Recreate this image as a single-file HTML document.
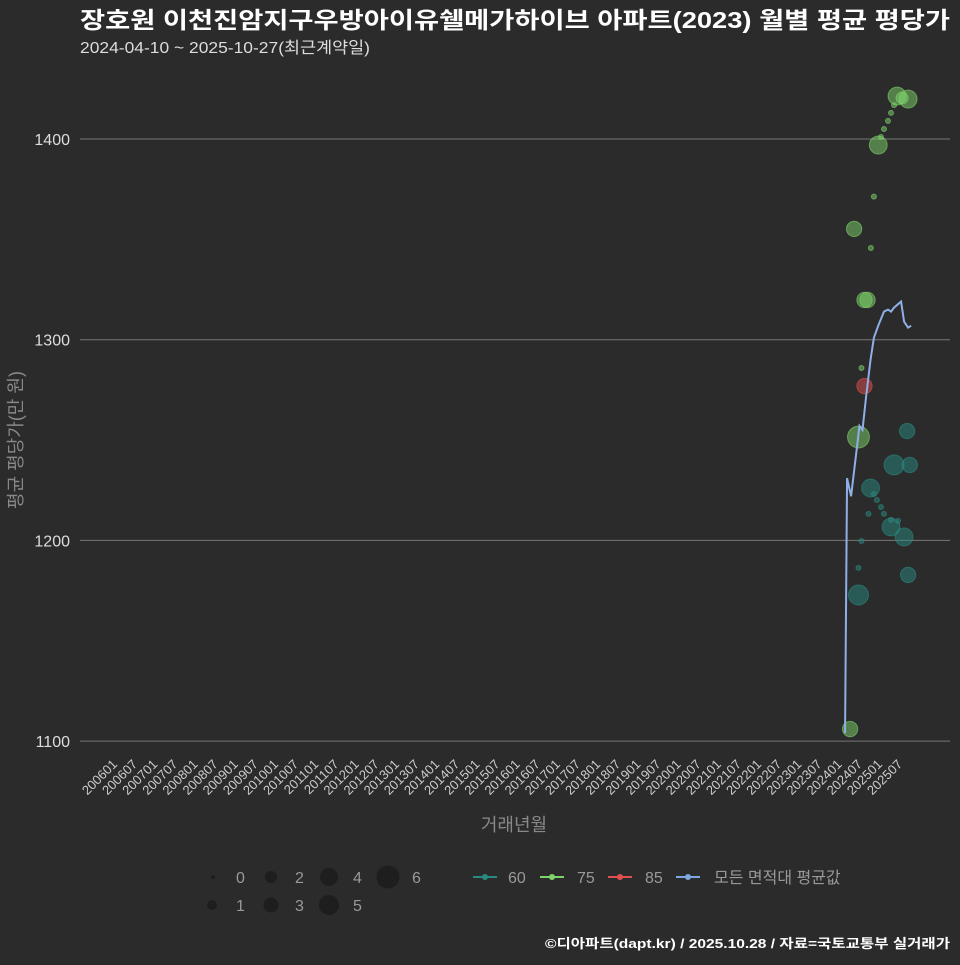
<!DOCTYPE html>
<html><head><meta charset="utf-8"><style>
body{margin:0;background:#2b2b2b;width:960px;height:960px;overflow:hidden;font-family:"Liberation Sans","Noto Sans CJK KR",sans-serif}
</style></head><body>
<svg id="chart" width="960" height="960" xmlns="http://www.w3.org/2000/svg" style="font-family:'Liberation Sans','Noto Sans CJK KR',sans-serif">
<rect width="960" height="960" fill="#2b2b2b"/>
<text x="80" y="28" fill="#fff" font-size="23" font-weight="bold" textLength="870" lengthAdjust="spacingAndGlyphs">장호원 이천진암지구우방아이유쉘메가하이브 아파트(2023) 월별 평균 평당가</text>
<text x="80" y="53" fill="#ddd" font-size="16" textLength="290" lengthAdjust="spacingAndGlyphs">2024-04-10 ~ 2025-10-27(최근계약일)</text>
<g id="grid"></g><g id="yticks"></g><g id="xticks"></g><g id="marks"></g>
<text transform="translate(22,440) rotate(-90)" text-anchor="middle" fill="#888" font-size="18">평균 평당가(만 원)</text>
<text x="514" y="831" text-anchor="middle" fill="#888" font-size="18">거래년월</text>
<g fill="#1e1e1e" font-size="16">
<circle cx="213" cy="877" r="2"/><text x="236" y="883" fill="#999">0</text>
<circle cx="271" cy="877" r="6"/><text x="295" y="883" fill="#999">2</text>
<circle cx="329" cy="877" r="9"/><text x="353" y="883" fill="#999">4</text>
<circle cx="388" cy="877" r="11.5"/><text x="412" y="883" fill="#999">6</text>
<circle cx="212" cy="905" r="5"/><text x="236" y="911" fill="#999">1</text>
<circle cx="271" cy="905" r="7.5"/><text x="295" y="911" fill="#999">3</text>
<circle cx="329" cy="905" r="10"/><text x="353" y="911" fill="#999">5</text>
</g>
<g font-size="16">
<line x1="473" y1="877" x2="497" y2="877" stroke="#2a8a80" stroke-width="2"/><circle cx="485" cy="877" r="3" fill="#2a8a80"/><text x="508" y="883" fill="#999">60</text>
<line x1="540" y1="877" x2="564" y2="877" stroke="#7ed36a" stroke-width="2"/><circle cx="552" cy="877" r="3" fill="#7ed36a"/><text x="577" y="883" fill="#999">75</text>
<line x1="608" y1="877" x2="632" y2="877" stroke="#e05050" stroke-width="2"/><circle cx="620" cy="877" r="3" fill="#e05050"/><text x="645" y="883" fill="#999">85</text>
<line x1="676" y1="877" x2="700" y2="877" stroke="#7ea6e0" stroke-width="2"/><circle cx="688" cy="877" r="3" fill="#7ea6e0"/><text x="714" y="883" fill="#999">모든 면적대 평균값</text>
</g>
<text x="545" y="948" fill="#fff" font-size="13" font-weight="bold" textLength="405" lengthAdjust="spacingAndGlyphs">©디아파트(dapt.kr) / 2025.10.28 / 자료=국토교통부 실거래가</text>
</svg>
<script>
const yTicks=[1100,1200,1300,1400];
const avgMonths=[217.6,218.2,219.4,220.9,221.9,222.8,223.9,225.2,226.2,227.5,229.2,230.4,231.3,232.2,234.3,235.2,236.4,237.3];
const avgValues=[1104,1231,1222,1243,1257,1255,1272,1290,1301,1307,1314,1315,1314,1316,1319,1309,1306,1307];
const p75Months=[233.1,236.4,234.6,232.2,231.3,230.4,229.2,228.3,227.5,226.2,220.3,225.3,223.4,224.3,222.5,221.6,219.1];
const p75Values=[1421.4,1419.9,1420.4,1416.9,1413,1409,1405,1401,1397,1371.3,1355.2,1345.7,1319.8,1319.8,1285.9,1251.5,1106];
const p75Counts=[3,3,1,0,0,0,0,0,3,0,2,0,2,2,0,5,2];
const p85Months=[223.4];
const p85Values=[1276.9];
const p85Counts=[2];
const p60Months=[236.1,232.2,236.9,225.2,226.2,227.1,228.3,229.2,224.6,231.3,233.4,231.3,235.2,222.5,221.6,236.4,221.6];
const p60Values=[1254.5,1237.6,1237.6,1226.1,1223.1,1220.1,1216.6,1213.2,1213.2,1210.2,1209.7,1206.7,1201.7,1199.7,1186.3,1182.8,1172.8];
const p60Counts=[2,4,2,3,0,0,0,0,0,0,0,3,3,0,0,2,4];
const NS='http://www.w3.org/2000/svg';
const xS=m=>115+m*3.355;
const yS=v=>139+(1400-v)*2.007;
const rS=c=>c===0?2.5:2+Math.sqrt(c)*4;
function mk(t,a,p){const e=document.createElementNS(NS,t);for(const k in a)e.setAttribute(k,a[k]);document.getElementById(p).appendChild(e);return e;}
yTicks.forEach(v=>{
 const l=mk('line',{x1:80,x2:950,y1:yS(v),y2:yS(v),stroke:'#777','stroke-width':1},'grid');
 
 
 const t=mk('text',{x:70,y:yS(v)+6,'text-anchor':'end',fill:'#ddd','font-size':16},'yticks');
 t.textContent=v;
 
 
});
for(let i=0;i<40;i++){
 const m=i*6, yr=2006+Math.floor(m/12), mo=m%12+1;
 const x=xS(m)+3;
 const t=mk('text',{transform:`translate(${x},765) rotate(-45)`,'text-anchor':'end',fill:'#ccc','font-size':13},'xticks');
 t.textContent=yr+(mo<10?'0':'')+mo;
 
 
}
function pts(ms,vs,cs,col,name){
 ms.forEach((m,i)=>{
  const c=mk('circle',{cx:xS(m),cy:yS(vs[i]),r:rS(cs[i]),fill:col,'fill-opacity':0.5,stroke:col,'stroke-opacity':0.6},'marks');
  
  
 });
}
pts(p60Months,p60Values,p60Counts,'#2a8a80','point-60');
pts(p75Months,p75Values,p75Counts,'#7ed36a','point-75');
pts(p85Months,p85Values,p85Counts,'#e05050','point-85');
const path=mk('polyline',{points:avgMonths.map((m,i)=>xS(m)+','+yS(avgValues[i])).join(' '),fill:'none',stroke:'#8fb0e6','stroke-width':2},'marks');


</script>
</body></html>
